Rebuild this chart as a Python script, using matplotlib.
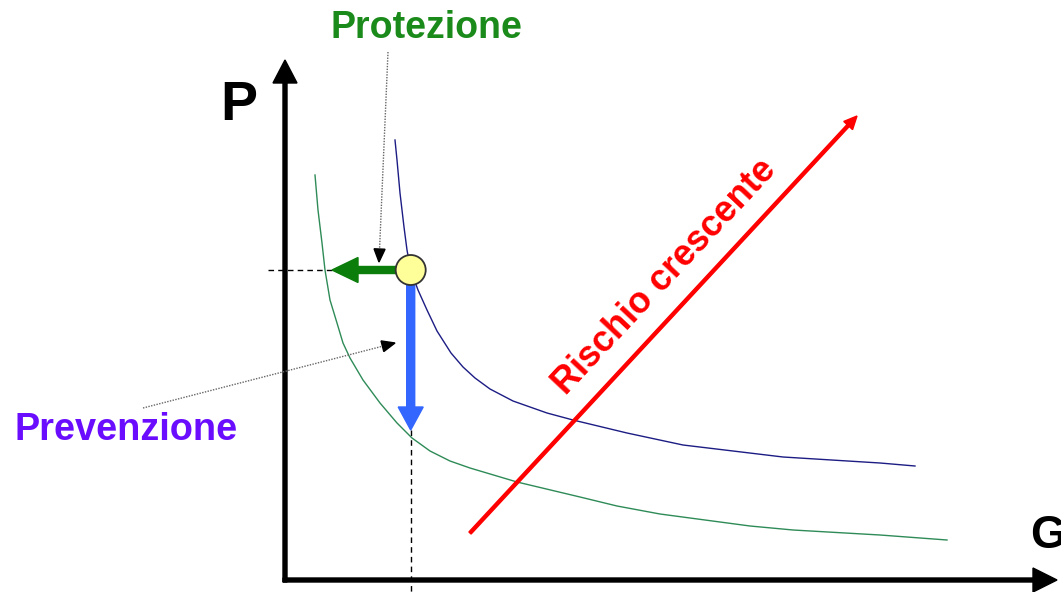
import matplotlib
matplotlib.use('Agg')
import matplotlib.pyplot as plt
from matplotlib.patches import Circle

# ---- data (G = gravità/danno, P = probabilità) ----
blue_g = [1.10, 1.12, 1.15, 1.19, 1.22, 1.257, 1.33, 1.42, 1.52, 1.66, 1.78,
          1.90, 2.05, 2.28, 2.62, 2.88, 3.42, 3.98, 4.98, 5.95, 6.30]
blue_p = [4.40, 4.20, 3.87, 3.53, 3.30, 3.10, 2.90, 2.70, 2.49, 2.27, 2.13,
          2.02, 1.91, 1.79, 1.67, 1.60, 1.47, 1.35, 1.23, 1.17, 1.14]
green_g = [0.30, 0.33, 0.37, 0.40, 0.45, 0.52, 0.58, 0.65, 0.78, 0.95, 1.12,
           1.27, 1.45, 1.65, 1.85, 2.32, 2.95, 3.32, 3.75, 4.65, 5.08, 5.95,
           6.62]
green_p = [4.05, 3.70, 3.37, 3.10, 2.80, 2.57, 2.37, 2.22, 2.00, 1.77, 1.57,
           1.42, 1.29, 1.19, 1.12, 0.98, 0.83, 0.74, 0.66, 0.54, 0.50, 0.45,
           0.40]

point_g, point_p = 1.257, 3.10        # current situation
protect_g = 0.47                      # G after protection
prevent_p = 1.50                      # P after prevention

risk_start = (1.85, 0.47)
risk_end = (5.72, 4.64)

g_axis_end = 7.72
p_axis_end = 5.20

labels = {"P": "P", "G": "G", "prot": "Protezione", "prev": "Prevenzione",
          "risk": "Rischio crescente"}

# ---- figure ----
fig = plt.figure(figsize=(10.61, 5.92), dpi=100)
ax = fig.add_axes([0, 0, 1, 1])
ax.set_xlim(-2.85, 7.76)
ax.set_ylim(-0.12, 5.80)
ax.axis('off')

font = ['Liberation Sans', 'DejaVu Sans']

# axes arrows
ax.arrow(-0.02, 0, g_axis_end + 0.02, 0, width=0.04, head_width=0.24,
         head_length=0.24, length_includes_head=True, color='black', zorder=3)
ax.arrow(0, -0.02, 0, p_axis_end + 0.02, width=0.04, head_width=0.24,
         head_length=0.23, length_includes_head=True, color='black', zorder=3)

# iso-risk curves
ax.plot(blue_g, blue_p, color='#1c1c84', lw=1.0, zorder=2,
        solid_joinstyle='round')
ax.plot(green_g, green_p, color='#2e8b57', lw=1.0, zorder=2,
        solid_joinstyle='round')

# dashed reference lines
ax.plot([-0.17, protect_g], [point_p, point_p], color='black', lw=1.0,
        ls=(0, (4, 3)), zorder=2)
ax.plot([point_g, point_g], [prevent_p, -0.12], color='black', lw=1.0,
        ls=(0, (4, 3)), zorder=2)

# risk arrow
ax.arrow(risk_start[0], risk_start[1], risk_end[0] - risk_start[0],
         risk_end[1] - risk_start[1], width=0.03, head_width=0.12,
         head_length=0.13, length_includes_head=True, color='#ff0000', zorder=4)

# protection arrow (green) and prevention arrow (blue)
ax.arrow(point_g, point_p, protect_g - point_g, 0, width=0.07, head_width=0.25,
         head_length=0.26, length_includes_head=True, color='#0a7d0a', zorder=5)
ax.arrow(point_g, point_p, 0, prevent_p - point_p, width=0.08, head_width=0.25,
         head_length=0.23, length_includes_head=True, color='#3366ff', zorder=5)

# current point
ax.add_patch(Circle((point_g, point_p), 0.15, facecolor='#ffff99',
                    edgecolor='#333333', lw=1.3, zorder=6))

# annotation pointers
prot_from, prot_to = (1.03, 5.28), (0.94, 3.18)
prev_from, prev_to = (-1.42, 1.72), (1.10, 2.37)
for (x0, y0), (x1, y1) in [(prot_from, prot_to), (prev_from, prev_to)]:
    ax.plot([x0, x1], [y0, y1], color='#666666', lw=1.0, ls=(0, (1, 1)),
            zorder=3)
    dx, dy = x1 - x0, y1 - y0
    n = (dx ** 2 + dy ** 2) ** 0.5
    ux, uy = dx / n, dy / n
    ax.arrow(x1 - ux * 0.13, y1 - uy * 0.13, ux * 0.13, uy * 0.13, width=0.0,
             head_width=0.11, head_length=0.13, length_includes_head=True,
             color='black', zorder=4)

# texts
ax.text(1.415, 5.42, labels["prot"], color='#1a8a1a', fontsize=27,
        fontweight='bold', ha='center', va='baseline', family=font)
ax.text(-1.585, 1.40, labels["prev"], color='#6a0dff', fontsize=27.3,
        fontweight='bold', ha='center', va='baseline', family=font)
ax.text(-0.46, 4.60, labels["P"], color='black', fontsize=40,
        fontweight='bold', ha='center', va='baseline', family=font)
ax.text(7.45, 0.32, labels["G"], color='black', fontsize=33,
        fontweight='bold', ha='left', va='baseline', family=font)
ax.text(3.80, 3.03, labels["risk"], color='#ff0000', fontsize=26,
        fontweight='bold', ha='center', va='center', rotation=46.8,
        rotation_mode='anchor', family=font)

fig.savefig('out.png', dpi=100)
